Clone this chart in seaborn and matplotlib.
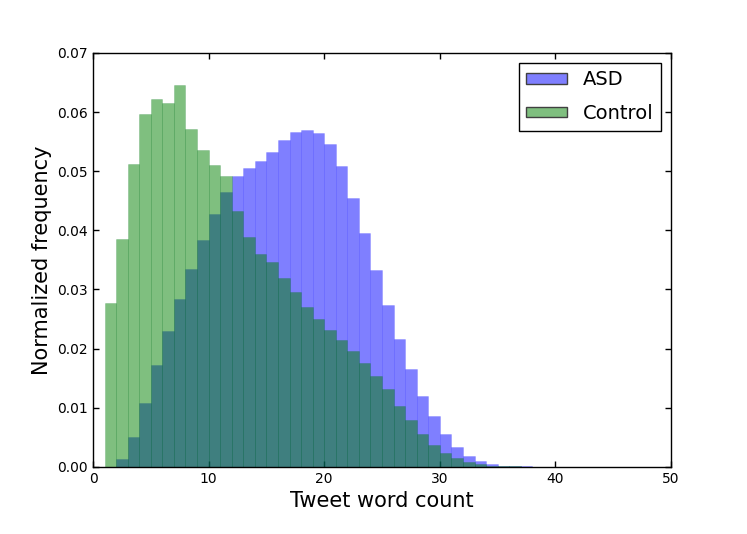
import numpy as np
import pandas as pd
import seaborn as sns
import matplotlib.pyplot as plt

# Bin heights (bin width 1 word)
asd_start = 2
asd_freq = [0.00135, 0.0051, 0.0108, 0.0172, 0.0230, 0.0284, 0.0334, 0.0383,
            0.0427, 0.0465, 0.0492, 0.0505, 0.0518, 0.0532, 0.0553, 0.0566,
            0.0569, 0.0564, 0.0546, 0.0508, 0.0454, 0.0395, 0.0333, 0.0274,
            0.0216, 0.0165, 0.0120, 0.0086, 0.0055, 0.0033, 0.0018, 0.00096,
            0.00045, 0.0002, 0.0001, 0.00005]

control_start = 1
control_freq = [0.0277, 0.0385, 0.0512, 0.0597, 0.0622, 0.0616, 0.0646, 0.0572,
                0.0536, 0.0510, 0.0492, 0.0433, 0.0389, 0.0360, 0.0347, 0.0319,
                0.0295, 0.0270, 0.0250, 0.0231, 0.0214, 0.0195, 0.0175, 0.0154,
                0.0131, 0.0103, 0.0079, 0.0055, 0.0037, 0.0024, 0.0014, 0.0008,
                0.0004, 0.0002, 0.0001, 0.00005]

x_ticks = [0, 10, 20, 30, 40, 50]
y_ticks = [0.00, 0.01, 0.02, 0.03, 0.04, 0.05, 0.06, 0.07]


def main():
    sns.set_style('white')
    plt.rcParams['font.family'] = ['DejaVu Sans']
    plt.rcParams['text.color'] = 'black'
    plt.rcParams['axes.labelcolor'] = 'black'

    fig = plt.figure(figsize=(7.47, 5.34), dpi=100)
    ax = fig.add_axes([0.1245, 0.126, 0.7738, 0.7748])

    asd = pd.DataFrame({'words': np.arange(len(asd_freq)) + asd_start + 0.5,
                        'freq': asd_freq})
    ctl = pd.DataFrame({'words': np.arange(len(control_freq)) + control_start + 0.5,
                        'freq': control_freq})

    sns.histplot(data=asd, x='words', weights='freq', binwidth=1,
                 binrange=(asd_start, asd_start + len(asd_freq)), ax=ax,
                 color=(0, 0, 1), alpha=0.5, edgecolor=(0.2, 0.2, 1, 0.25),
                 linewidth=0.5, label='ASD')
    sns.histplot(data=ctl, x='words', weights='freq', binwidth=1,
                 binrange=(control_start, control_start + len(control_freq)), ax=ax,
                 color=(0, 0.5, 0), alpha=0.5, edgecolor=(0, 0.45, 0.1, 0.25),
                 linewidth=0.5, label='Control')

    ax.set_xlim(0, 50)
    ax.set_ylim(0, 0.07)
    ax.set_xticks(x_ticks)
    ax.set_yticks(y_ticks)
    ax.set_yticklabels([f'{v:.2f}' for v in y_ticks])
    ax.tick_params(direction='in', length=4.5, width=1, labelsize=10,
                   top=True, right=True, bottom=True, left=True,
                   colors='black', labelcolor='black')
    for s in ax.spines.values():
        s.set_color('black')
        s.set_linewidth(1.0)

    ax.set_xlabel('Tweet word count', fontsize=15, color='black')
    ax.set_ylabel('Normalized frequency', fontsize=15, color='black')

    leg = ax.legend(loc='upper right', fontsize=14, fancybox=False,
                    framealpha=1, borderaxespad=0.5, handleheight=0.45,
                    handlelength=2.1, labelspacing=0.75, labelcolor='black')
    leg.get_frame().set_edgecolor('black')
    leg.get_frame().set_linewidth(1.0)
    for h in leg.legend_handles:
        h.set_edgecolor('#404040')
        h.set_linewidth(1.0)

    fig.savefig('out.png', dpi=100)
    plt.close(fig)


if __name__ == "__main__":
    main()
